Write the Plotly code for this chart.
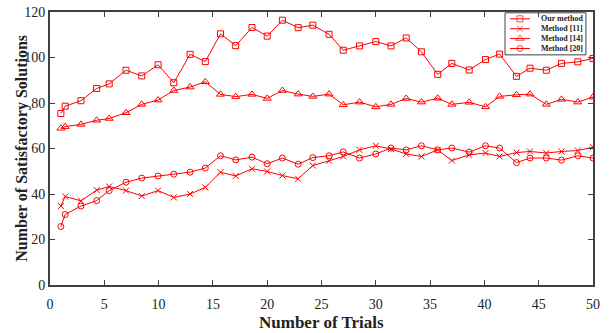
import plotly.graph_objects as go

trials = [1.0, 1.4, 2.85, 4.3, 5.45, 7.0, 8.45, 9.95, 11.4, 12.9, 14.3, 15.7, 17.1,
          18.6, 20.0, 21.4, 22.85, 24.2, 25.7, 27.0, 28.5, 30.0, 31.4, 32.8, 34.2,
          35.7, 37.0, 38.6, 40.1, 41.4, 42.95, 44.2, 45.7, 47.1, 48.6, 50.0]

our_method = [75.4, 78.6, 81.0, 86.4, 88.4, 94.4, 91.9, 96.8, 88.9, 101.4, 98.2, 110.4, 105.2,
              113.2, 109.4, 116.4, 113.1, 114.2, 110.2, 103.2, 105.1, 107.0, 105.1, 108.6, 102.5,
              92.6, 97.4, 94.5, 99.1, 101.5, 91.7, 95.3, 94.4, 97.4, 98.1, 99.6]

method_11 = [34.7, 38.9, 37.0, 41.7, 43.3, 41.5, 39.1, 41.5, 38.5, 40.0, 42.9, 49.6, 47.9,
             51.1, 49.9, 48.1, 46.7, 52.5, 54.6, 56.5, 59.4, 61.2, 59.8, 57.6, 56.5,
             59.4, 54.7, 57.2, 58.0, 56.5, 58.2, 58.7, 58.0, 58.7, 59.1, 60.6]

method_14 = [68.9, 69.6, 70.6, 72.4, 73.2, 75.7, 79.4, 81.3, 85.5, 87.0, 89.3, 83.8, 82.8,
             83.8, 82.0, 85.5, 83.9, 82.9, 83.9, 79.2, 80.4, 78.3, 79.4, 82.0, 80.4,
             82.1, 79.4, 80.3, 78.3, 82.9, 83.6, 83.9, 79.4, 81.6, 80.4, 82.6]

method_20 = [25.7, 31.0, 34.7, 37.1, 41.5, 45.2, 47.0, 47.9, 48.7, 49.6, 51.4, 56.8, 55.0,
             56.2, 53.3, 55.8, 53.1, 56.0, 56.8, 58.5, 55.8, 57.6, 60.2, 59.4, 61.2,
             59.4, 60.2, 58.4, 61.2, 60.2, 53.8, 55.8, 55.8, 54.9, 56.8, 55.8]

series_names = ["Our method", "Method [11]", "Method [14]", "Method [20]"]
series_values = [our_method, method_11, method_14, method_20]
series_symbols = ["square-open", "x-thin-open", "triangle-up-open", "circle-open"]
series_sizes = [6, 6, 7, 6]

x_ticks = list(range(0, 51, 5))
y_ticks = list(range(0, 121, 20))

RED = "#ff0000"
AXIS = "#404040"
TXT = "#222222"
FONT = "Liberation Serif"

fig = go.Figure()
for name, vals, sym, sz in zip(series_names, series_values, series_symbols, series_sizes):
    fig.add_trace(go.Scatter(
        x=trials, y=vals, name=name, mode="lines+markers", showlegend=False,
        line=dict(color=RED, width=1),
        marker=dict(symbol=sym, size=sz, color=RED, line=dict(color=RED, width=1)),
    ))

# compact legend box (drawn on an overlay axis spanning the plot area, 0..1 units)
LEG_X0, LEG_X1 = 0.838, 0.987     # box left / right (fraction of plot width)
LEG_Y0, LEG_Y1 = 0.843, 0.997     # box bottom / top (fraction of plot height)
ROW_TOP, ROW_STEP = 0.975, 0.0362  # first row centre, spacing
SAMPLE_X0, SAMPLE_X1 = 0.847, 0.884
TEXT_X = 0.900

fig.add_trace(go.Scatter(
    x=[LEG_X0, LEG_X1, LEG_X1, LEG_X0, LEG_X0],
    y=[LEG_Y0, LEG_Y0, LEG_Y1, LEG_Y1, LEG_Y0],
    xaxis="x2", yaxis="y2", mode="lines", fill="toself", fillcolor="white",
    line=dict(color=AXIS, width=1), showlegend=False, hoverinfo="skip",
))
for i, (name, sym, sz) in enumerate(zip(series_names, series_symbols, series_sizes)):
    ry = ROW_TOP - i * ROW_STEP
    fig.add_trace(go.Scatter(
        x=[SAMPLE_X0, (SAMPLE_X0 + SAMPLE_X1) / 2, SAMPLE_X1], y=[ry, ry, ry],
        xaxis="x2", yaxis="y2", mode="lines+markers", showlegend=False, hoverinfo="skip",
        line=dict(color=RED, width=1),
        marker=dict(symbol=sym, size=[0, sz, 0], color=RED, line=dict(color=RED, width=1)),
    ))
    fig.add_annotation(
        x=TEXT_X, y=ry, xref="paper", yref="paper", xanchor="left", yanchor="middle",
        text="<b>" + name + "</b>", showarrow=False,
        font=dict(family=FONT, size=8, color=TXT),
    )

# axis titles
fig.add_annotation(
    x=0.5, y=-0.136, xref="paper", yref="paper", xanchor="center", yanchor="middle",
    text="<b>Number of Trials</b>", showarrow=False,
    font=dict(family=FONT, size=17, color=TXT),
)
fig.add_annotation(
    x=-0.053, y=0.5, xref="paper", yref="paper", xanchor="center", yanchor="middle",
    text="<b>Number of Satisfactory Solutions</b>", showarrow=False, textangle=-90,
    font=dict(family=FONT, size=16, color=TXT),
)

axis_common = dict(
    showline=True, linecolor=AXIS, linewidth=2, mirror="ticks",
    ticks="inside", ticklen=5, tickwidth=1, tickcolor=AXIS,
    showgrid=False, zeroline=False, automargin=False,
    tickfont=dict(family=FONT, size=14, color=TXT),
    tickprefix="<b>", ticksuffix="</b>",
)

fig.update_layout(
    width=614, height=333,
    margin=dict(l=50, r=21, t=12, b=48, autoexpand=False),
    paper_bgcolor="white", plot_bgcolor="white",
    font=dict(family=FONT, color=TXT),
    showlegend=False,
    xaxis=dict(range=[0, 50], tickvals=x_ticks, ticklabelstandoff=5, **axis_common),
    yaxis=dict(range=[0, 120], tickvals=y_ticks, **axis_common),
    xaxis2=dict(range=[0, 1], overlaying="x", anchor="y2", visible=False, fixedrange=True),
    yaxis2=dict(range=[0, 1], overlaying="y", anchor="x2", visible=False, fixedrange=True),
)

fig.write_html("out.html")
